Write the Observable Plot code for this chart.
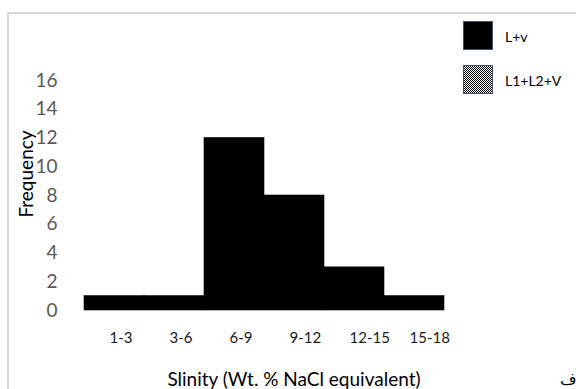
<!DOCTYPE html>
<html>
<head>
<meta charset="utf-8">
<script src="https://cdn.jsdelivr.net/npm/d3@7"></script>
<script src="https://cdn.jsdelivr.net/npm/@observablehq/plot@0.6"></script>
<style>
  html, body { margin: 0; padding: 0; background: #fff; }
  #wrap { position: relative; width: 576px; height: 389px; overflow: hidden; font-family: Lato, "Open Sans", sans-serif; }
  #frame { position: absolute; left: 7px; top: 12px; right: -4px; bottom: -4px; border-left: 2px solid #d9d9d9; border-top: 2px solid #d9d9d9; }
  #chart { position: absolute; left: 0; top: 0; }
  .abs { position: absolute; white-space: nowrap; }
  #ylab { left: 25px; top: 174px; transform: translate(-50%, -50%) rotate(-90deg); font-size: 19px; color: #000; }
  #xlab { left: 294px; top: 378px; transform: translate(-50%, -50%); font-size: 19px; color: #000; }
  .key { position: absolute; left: 463px; width: 28px; height: 27px; border: 1px solid #44546a; image-rendering: pixelated; }
  .keytext { position: absolute; left: 505px; font-size: 14px; color: #000; transform: translateY(-50%); }
  #note { left: 560px; top: 370px; font-family: "DejaVu Sans", sans-serif; font-size: 16px; direction: rtl; }
</style>
</head>
<body>
<div id="wrap">
  <div id="frame"></div>
  <div id="chart"></div>
  <div class="abs" id="ylab">Frequency</div>
  <div class="abs" id="xlab">Slinity (Wt. % NaCl equivalent)</div>
  <div id="legend"></div>
  <div class="abs" id="note">اف</div>
</div>
<script>
// Salinity classes (Wt. % NaCl equivalent) and fluid-inclusion counts
const ranges = ["1-3", "3-6", "6-9", "9-12", "12-15", "15-18"];
const countLV = [1, 1, 12, 8, 3, 1];
const yTicks = [0, 2, 4, 6, 8, 10, 12, 14, 16];

// Legend entries: inclusion types
const seriesNames = ["L+v", "L1+L2+V"];
const checker = "url(\"data:image/svg+xml,%3Csvg xmlns='http://www.w3.org/2000/svg' width='2' height='2' shape-rendering='crispEdges'%3E%3Crect width='2' height='2' fill='%23fff'/%3E%3Crect width='1' height='1' fill='%23000'/%3E%3Crect x='1' y='1' width='1' height='1' fill='%23000'/%3E%3C/svg%3E\") 0 0 / 2px 2px repeat";
const seriesFills = ["#000", checker];

const rows = ranges.map((r, i) => ({range: r, count: countLV[i]}));

const chart = Plot.plot({
  width: 576,
  height: 389,
  marginLeft: 81,
  marginRight: 130,
  marginTop: 80,
  marginBottom: 79,
  style: {background: "transparent", fontFamily: "Lato, 'Open Sans', sans-serif", overflow: "visible"},
  x: {domain: ranges, padding: 0, label: null, axis: null},
  y: {domain: [0, 16], label: null, axis: null},
  marks: [
    Plot.barY(rows, {x: "range", y: "count", fill: "#000", stroke: "#000", strokeWidth: 0.6}),
    Plot.axisY({ticks: yTicks, tickSize: 0, tickPadding: 24, fontSize: 19, color: "#595959", label: null}),
    Plot.axisX({tickSize: 0, tickPadding: 22, fontSize: 15, color: "#1a1a1a", textAnchor: "start", dx: -5, label: null})
  ]
});
document.getElementById("chart").appendChild(chart);

// Legend in the upper right corner
const legend = document.getElementById("legend");
seriesNames.forEach((name, i) => {
  const top = 21 + i * 44;
  const box = document.createElement("div");
  box.className = "key";
  box.style.top = top + "px";
  box.style.background = seriesFills[i];
  legend.appendChild(box);
  const label = document.createElement("div");
  label.className = "keytext";
  label.style.top = (top + 15) + "px";
  label.textContent = name;
  legend.appendChild(label);
});
</script>
</body>
</html>
